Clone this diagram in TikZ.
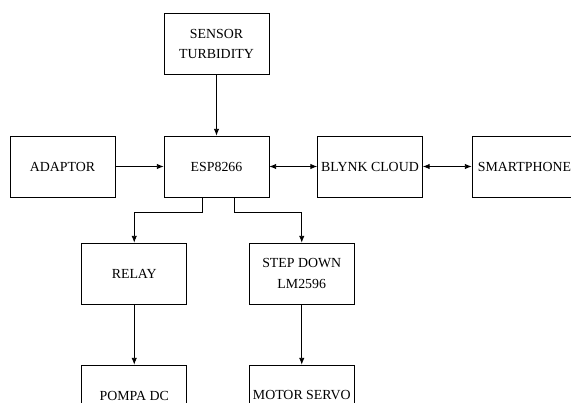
\documentclass[tikz,border=0pt]{standalone}
\usepackage{fontspec}
\setmainfont{Liberation Serif}
\usetikzlibrary{arrows.meta,positioning,calc}

\begin{document}
\begin{tikzpicture}[
  x=0.75pt, y=-0.75pt,
  block/.style={draw, line width=0.6pt, minimum width=78.75pt, minimum height=45.75pt, align=center, inner sep=1pt, font=\fontsize{10.4}{15.5}\selectfont},
  conn/.style={line width=0.6pt, -{Latex[length=5pt,width=4pt]}},
  biconn/.style={line width=0.6pt, {Latex[length=5pt,width=4pt]}-{Latex[length=5pt,width=4pt]}}
]
\clip (0,0) rectangle (571,403);

% ---- top row ----
\node[block] (sensor) at (216.5,44) {SENSOR\\TURBIDITY};
\node[block] (adaptor) at (62.5,166.5) {ADAPTOR};
\node[block] (esp) at (216.5,166.5) {ESP8266};
\node[block] (blynk) at (370,166.5) {BLYNK CLOUD};
\node[block] (phone) at (524.5,166.5) {SMARTPHONE};

\draw[conn] (sensor) -- (esp);
\draw[conn] (adaptor) -- (esp);
\draw[biconn] (esp) -- (blynk);
\draw[biconn] (blynk) -- (phone);

% ---- outputs ----
\node[block] (relay) at (134.25,273.5) {RELAY};
\node[block] (stepdown) at (301.75,273.5) {STEP DOWN\\LM2596};
\node[block] (pompa) at (134.25,395.5) {POMPA DC};
\node[block] (servo) at (301.75,395.5) {MOTOR SERVO};

\draw[conn] ([xshift=-10.9pt]esp.south) -- ++(0,15) -| (relay);
\draw[conn] ([xshift=13.1pt]esp.south) -- ++(0,15) -| (stepdown);
\draw[conn] (relay) -- (pompa);
\draw[conn] (stepdown) -- (servo);

\end{tikzpicture}
\end{document}
